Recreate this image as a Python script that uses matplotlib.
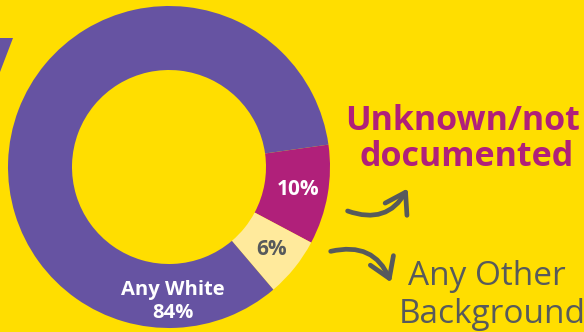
import matplotlib
matplotlib.use("Agg")
import numpy as np
import matplotlib.pyplot as plt
from matplotlib.patches import FancyArrowPatch, Polygon

# Ethnicity split of the recorded cases
groups = ["Unknown/not documented", "Any Other Background", "Any White"]
shares = [10, 6, 84]
share_labels = ["10%", "6%", "84%"]

bg = "#FFDE00"
purple = "#6653A2"
magenta = "#B0207A"
cream = "#FFEA9C"
grey = "#575A5C"
colors = [magenta, cream, purple]

W, H = 584, 332
fig = plt.figure(figsize=(W / 100, H / 100), dpi=100, facecolor=bg)
ax = fig.add_axes([0, 0, 1, 1])

cx, cy, R, r = 169, 165, 161, 97
wedges, _ = ax.pie(
    shares,
    colors=colors,
    startangle=8,
    counterclock=False,
    radius=R,
    center=(cx, cy),
    wedgeprops=dict(width=R - r, linewidth=0),
    frame=True,
)
ax.set_xlim(0, W)
ax.set_ylim(0, H)
ax.set_aspect("equal")
ax.axis("off")

# percentage labels sitting in the small slices
mid_r = (R + r) / 2 + 2
for w, lab, col in zip(wedges[:2], share_labels[:2], ["white", grey]):
    ang = np.deg2rad((w.theta1 + w.theta2) / 2)
    ax.text(cx + mid_r * np.cos(ang), cy + mid_r * np.sin(ang), lab,
            ha="center", va="center", fontsize=15, fontweight="bold",
            color=col, family="Open Sans")

ax.text(173, 37, groups[2], ha="center", va="baseline", fontsize=14.5,
        fontweight="bold", color="white", family="Open Sans")
ax.text(173, 14, share_labels[2], ha="center", va="baseline", fontsize=14.5,
        fontweight="bold", color="white", family="Open Sans")

# partial stroke at the left edge
ax.add_patch(Polygon([(0, 294), (13, 294), (0, 260)], closed=True,
                     facecolor=purple, edgecolor="none"))

# callout headings
ax.text(463, 202, "Unknown/not", ha="center", va="baseline", fontsize=24.5,
        fontweight="bold", color=magenta, family="Open Sans")
ax.text(467, 166, "documented", ha="center", va="baseline", fontsize=24.5,
        fontweight="bold", color=magenta, family="Open Sans")
ax.text(487, 47, "Any Other", ha="center", va="baseline", fontsize=24,
        color=grey, family="Open Sans")
ax.text(492, 9, "Background", ha="center", va="baseline", fontsize=24,
        color=grey, family="Open Sans")

# curved arrows
arrow_kw = dict(arrowstyle="->,head_length=0.7,head_width=0.45",
                mutation_scale=20, color=grey, lw=3.4, capstyle="round",
                joinstyle="round")
ax.add_patch(FancyArrowPatch((345, 122), (409, 146),
                             connectionstyle="arc3,rad=0.45", **arrow_kw))
ax.add_patch(FancyArrowPatch((328, 80), (392, 47),
                             connectionstyle="arc3,rad=-0.45", **arrow_kw))

fig.savefig("out.png", dpi=100, facecolor=bg)
